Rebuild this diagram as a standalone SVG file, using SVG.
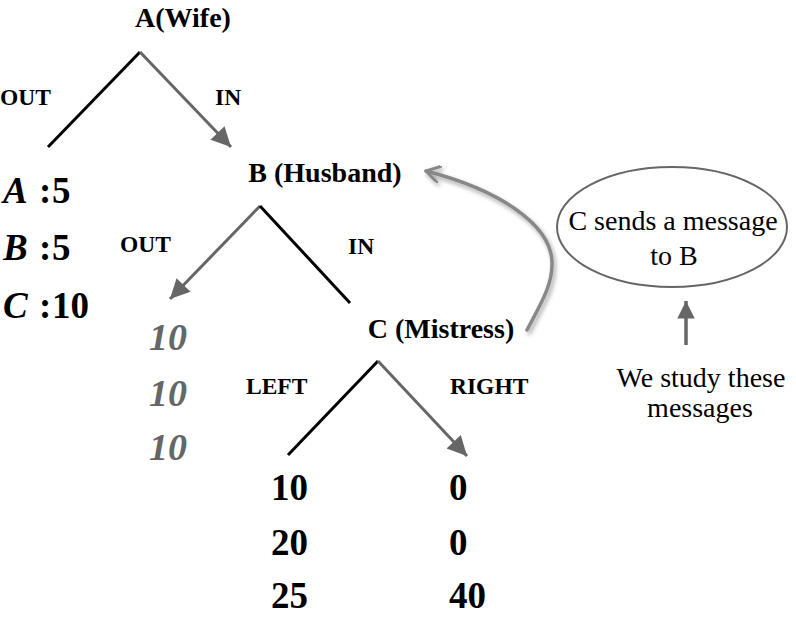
<svg xmlns="http://www.w3.org/2000/svg" width="796" height="620" viewBox="0 0 796 620">
<style>
text{font-family:"Liberation Serif","Times New Roman",serif;fill:#000}
.node{font-size:28px;font-weight:bold}
.lab{font-size:23.5px;font-weight:bold}
.pay{font-size:37px;font-weight:bold}
.gpay{font-size:38px;font-weight:bold;font-style:italic;fill:#666}
.note{font-size:28px}
.blk{stroke:#000;stroke-width:3;fill:none}
.gry{stroke:#666;stroke-width:3;fill:none}
</style>
<defs>
<marker id="tri" viewBox="0 0 10 10" refX="10" refY="5" markerWidth="8.5" markerHeight="6.5" markerUnits="strokeWidth" orient="auto">
<path d="M0,0 L10,5 L0,10 z" fill="#666"/>
</marker>
<marker id="tri2" viewBox="0 0 10 10" refX="10" refY="5" markerWidth="5" markerHeight="5" markerUnits="strokeWidth" orient="auto">
<path d="M0,0 L10,5 L0,10 z" fill="#666"/>
</marker>
<marker id="chev" viewBox="0 0 12 12" refX="10" refY="6" markerWidth="5" markerHeight="5" markerUnits="strokeWidth" orient="auto">
<path d="M1,0.5 L10,6 L1,11.5" fill="none" stroke="#888" stroke-width="2" stroke-linecap="round" stroke-linejoin="round"/>
</marker>
<filter id="sh" x="-20%" y="-20%" width="140%" height="140%">
<feDropShadow dx="2" dy="3" stdDeviation="2" flood-color="#000" flood-opacity="0.35"/>
</filter>
</defs>

<g id="connectors">
<line class="blk" x1="140" y1="52" x2="48" y2="147"/>
<line class="gry" x1="140" y1="52" x2="231" y2="147" marker-end="url(#tri)"/>
<line class="gry" x1="260" y1="206" x2="170" y2="299" marker-end="url(#tri)"/>
<line class="blk" x1="260" y1="206" x2="350" y2="303"/>
<line class="blk" x1="378" y1="361" x2="288" y2="455"/>
<line class="gry" x1="378" y1="361" x2="467" y2="456" marker-end="url(#tri)"/>
<path d="M527,330 C540,305 553,285 552,262 C551,225 500,190 426,171" fill="none" stroke="#888" stroke-width="3.5" stroke-linecap="round" marker-end="url(#chev)" filter="url(#sh)"/>
<line x1="686" y1="345" x2="686" y2="301" stroke="#666" stroke-width="3.5" marker-end="url(#tri2)"/>
</g>

<g id="nodeA"><text class="node" x="183" y="27" text-anchor="middle">A(Wife)</text></g>
<g id="labA-out"><text class="lab" x="0" y="105">OUT</text></g>
<g id="labA-in"><text class="lab" x="215" y="105">IN</text></g>
<g id="payA">
<text class="pay" y="203"><tspan x="3" font-style="italic">A</tspan><tspan x="39">:</tspan><tspan x="52">5</tspan></text>
<text class="pay" y="260"><tspan x="3" font-style="italic">B</tspan><tspan x="39">:</tspan><tspan x="52">5</tspan></text>
<text class="pay" y="318"><tspan x="3" font-style="italic">C</tspan><tspan x="39">:</tspan><tspan x="52">10</tspan></text>
</g>

<g id="nodeB"><text class="node" x="325" y="182" text-anchor="middle">B (Husband)</text></g>
<g id="labB-out"><text class="lab" x="120" y="252">OUT</text></g>
<g id="labB-in"><text class="lab" x="348" y="254">IN</text></g>
<g id="payB">
<text class="gpay" x="149" y="350">10</text>
<text class="gpay" x="149" y="406">10</text>
<text class="gpay" x="149" y="460">10</text>
</g>

<g id="nodeC"><text class="node" x="441" y="338" text-anchor="middle">C (Mistress)</text></g>
<g id="labC-left"><text class="lab" x="246" y="394">LEFT</text></g>
<g id="labC-right"><text class="lab" x="450" y="394">RIGHT</text></g>
<g id="payLeft">
<text class="pay" x="271" y="500">10</text>
<text class="pay" x="271" y="555">20</text>
<text class="pay" x="271" y="608">25</text>
</g>
<g id="payRight">
<text class="pay" x="449" y="500">0</text>
<text class="pay" x="449" y="555">0</text>
<text class="pay" x="449" y="608">40</text>
</g>

<g id="message">
<ellipse cx="672" cy="227" rx="115" ry="60" fill="none" stroke="#666" stroke-width="2"/>
<text class="note" x="673" y="230" text-anchor="middle">C sends a message</text>
<text class="note" x="674" y="265" text-anchor="middle">to B</text>
</g>
<g id="study">
<text class="note" x="701" y="387" text-anchor="middle">We study these</text>
<text class="note" x="700" y="417" text-anchor="middle">messages</text>
</g>
</svg>
